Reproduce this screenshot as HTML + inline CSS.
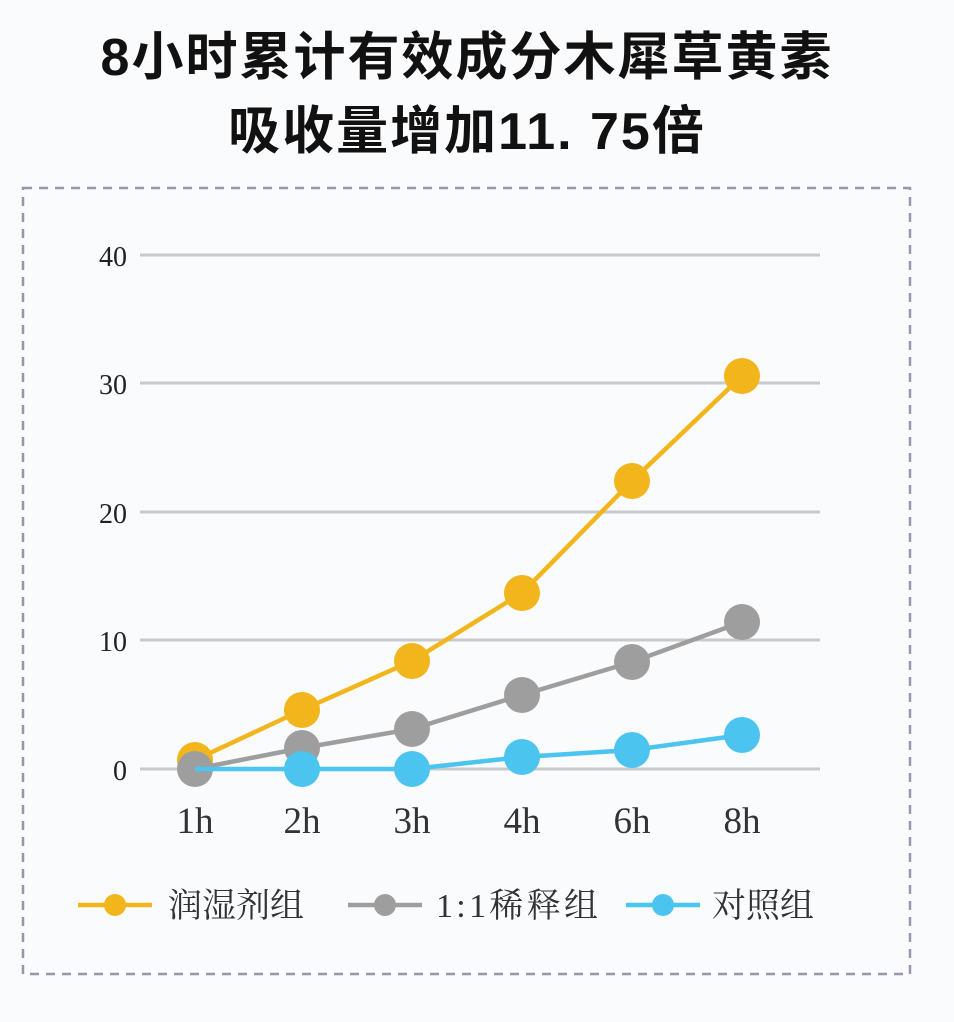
<!DOCTYPE html>
<html><head><meta charset="utf-8"><style>
html,body{margin:0;padding:0;background:#fafbfd;}
body{width:954px;height:1022px;overflow:hidden;position:relative;}
.t{position:absolute;left:0;width:934px;text-align:center;font-family:"Liberation Sans","Noto Sans CJK SC",sans-serif;font-weight:bold;font-size:52px;line-height:60px;color:#111;letter-spacing:2px;}
</style></head><body>
<div class="t" style="top:28px">8小时累计有效成分木犀草黄素</div>
<div class="t" style="top:102px">吸收量增加11. 75倍</div>
<svg width="954" height="1022" style="position:absolute;left:0;top:0">
<rect x="23" y="188" width="887" height="786" fill="none" stroke="#9a94ac" stroke-width="2.5" stroke-dasharray="9,7"/>
<g stroke="#cacaca" stroke-width="3">
<line x1="140" y1="255" x2="820" y2="255"/><line x1="140" y1="383" x2="820" y2="383"/>
<line x1="140" y1="512" x2="820" y2="512"/><line x1="140" y1="640" x2="820" y2="640"/>
<line x1="140" y1="769" x2="820" y2="769"/></g>
<g font-family="Liberation Serif,serif" font-size="28" fill="#222" text-anchor="end">
<text x="127" y="266">40</text><text x="127" y="394">30</text><text x="127" y="523">20</text><text x="127" y="651">10</text><text x="127" y="780">0</text></g>
<g font-family="Liberation Serif,serif" font-size="37" fill="#333" text-anchor="middle">
<text x="195" y="833">1h</text><text x="302" y="833">2h</text><text x="412" y="833">3h</text><text x="522" y="833">4h</text><text x="632" y="833">6h</text><text x="742" y="833">8h</text></g>
<polyline points="195,760 302,710 412,661 522,593 632,481 742,376" fill="none" stroke="#f2b51c" stroke-width="4.5"/>
<g fill="#f2b51c"><circle cx="195" cy="760" r="18"/><circle cx="302" cy="710" r="18"/><circle cx="412" cy="661" r="18"/><circle cx="522" cy="593" r="18"/><circle cx="632" cy="481" r="18"/><circle cx="742" cy="376" r="18"/></g>
<polyline points="195,769 302,748 412,729 522,695 632,662 742,622" fill="none" stroke="#9e9e9e" stroke-width="4.5"/>
<g fill="#9e9e9e"><circle cx="195" cy="769" r="18"/><circle cx="302" cy="748" r="18"/><circle cx="412" cy="729" r="18"/><circle cx="522" cy="695" r="18"/><circle cx="632" cy="662" r="18"/><circle cx="742" cy="622" r="18"/></g>
<polyline points="195,769 302,769 412,769 522,757 632,750 742,735" fill="none" stroke="#4cc4f0" stroke-width="4.5"/>
<g fill="#4cc4f0"><circle cx="302" cy="769" r="18"/><circle cx="412" cy="769" r="18"/><circle cx="522" cy="757" r="18"/><circle cx="632" cy="750" r="18"/><circle cx="742" cy="735" r="18"/></g>
<line x1="78" y1="905" x2="152" y2="905" stroke="#f2b51c" stroke-width="4.5"/><circle cx="115" cy="905" r="11" fill="#f2b51c"/>
<line x1="348" y1="905" x2="422" y2="905" stroke="#9e9e9e" stroke-width="4.5"/><circle cx="385" cy="905" r="11" fill="#9e9e9e"/>
<line x1="626" y1="905" x2="700" y2="905" stroke="#4cc4f0" stroke-width="4.5"/><circle cx="663" cy="905" r="11" fill="#4cc4f0"/>
<g font-family="Liberation Serif,'Noto Serif CJK SC',serif" font-size="34" fill="#333">
<text x="168" y="917">润湿剂组</text><text x="436" y="917" textLength="162">1:1稀释组</text><text x="712" y="917">对照组</text></g>
</svg>
</body></html>
